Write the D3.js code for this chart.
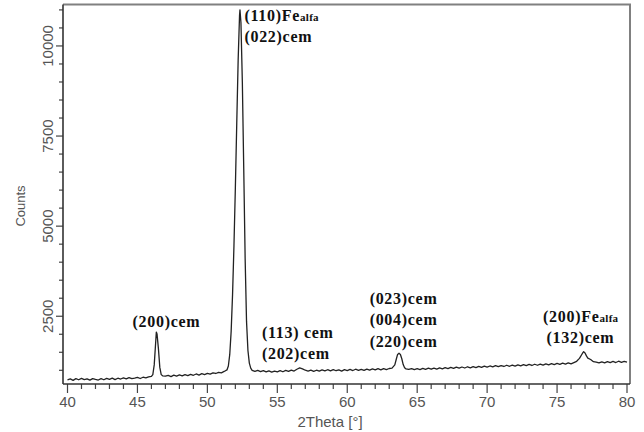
<!DOCTYPE html>
<html>
<head>
<meta charset="utf-8">
<script src="https://cdn.jsdelivr.net/npm/d3@7"></script>
<style>
  html, body { margin: 0; padding: 0; background: #fff; }
  svg { display: block; }
</style>
</head>
<body>
<script>
// ---- data ----
const twoTheta = [
  40.0,40.2,40.4,40.6,40.8,41.0,41.2,41.4,41.6,41.8,42.0,42.2,42.4,42.6,42.8,43.0,43.2,43.4,43.6,43.8,
  44.0,44.2,44.4,44.6,44.8,45.0,45.2,45.4,45.6,45.8,46.0,46.1,46.2,46.3,46.35,46.4,46.5,46.6,46.7,46.8,
  47.0,47.2,47.4,47.6,47.8,48.0,48.2,48.4,48.6,48.8,49.0,49.2,49.4,49.6,49.8,50.0,50.2,50.4,50.6,50.8,
  51.0,51.2,51.4,51.5,51.6,51.7,51.8,51.9,52.0,52.1,52.2,52.3,52.33,52.4,52.5,52.6,52.7,52.8,52.9,53.0,
  53.1,53.2,53.4,53.6,53.8,54.0,54.2,54.4,54.6,54.8,55.0,55.2,55.4,55.6,55.8,56.0,56.2,56.4,56.6,56.8,57.0,
  57.2,57.4,57.6,57.8,58.0,58.2,58.4,58.6,58.8,59.0,59.2,59.4,59.6,59.8,60.0,60.2,60.4,60.6,60.8,61.0,
  61.2,61.4,61.6,61.8,62.0,62.2,62.4,62.6,62.8,63.0,63.2,63.4,63.5,63.6,63.7,63.8,63.9,64.0,64.1,64.2,
  64.4,64.6,64.8,65.0,65.2,65.4,65.6,65.8,66.0,66.2,66.4,66.6,66.8,67.0,67.2,67.4,67.6,67.8,68.0,68.2,
  68.4,68.6,68.8,69.0,69.2,69.4,69.6,69.8,70.0,70.2,70.4,70.6,70.8,71.0,71.2,71.4,71.6,71.8,72.0,72.2,
  72.4,72.6,72.8,73.0,73.2,73.4,73.6,73.8,74.0,74.2,74.4,74.6,74.8,75.0,75.2,75.4,75.6,75.8,76.0,76.2,
  76.4,76.6,76.8,76.9,77.0,77.1,77.2,77.4,77.6,77.8,78.0,78.2,78.4,78.6,78.8,79.0,79.2,79.4,79.6,79.8,
  80.0
];
const counts = [
  735,760,722,768,738,778,742,764,726,770,746,730,768,738,778,750,784,742,780,758,
  792,764,798,768,786,806,772,808,788,818,830,880,1150,1750,2060,2010,1600,1080,880,846,
  836,860,826,866,840,872,844,880,852,888,862,898,868,906,880,916,892,930,912,945,
  930,968,1010,1120,1440,2080,3100,4450,6050,7850,9600,10850,11000,10650,9000,6600,4100,2350,1550,1200,
  1060,1000,970,996,962,992,956,986,952,980,958,990,960,996,970,1006,980,1030,1065,1040,1002,
  980,1006,972,1002,975,1010,982,1016,985,1020,988,1012,978,1018,992,1024,994,1030,1000,1026,
  996,1034,1005,1038,1010,1044,1012,1048,1020,1050,1062,1150,1300,1440,1475,1440,1320,1160,1070,1040,
  1026,1048,1018,1044,1020,1052,1026,1058,1030,1062,1034,1068,1040,1072,1046,1080,1052,1088,1060,1092,
  1064,1098,1070,1102,1074,1108,1082,1116,1088,1120,1094,1128,1100,1132,1106,1140,1112,1146,1118,1152,
  1124,1158,1130,1162,1134,1168,1140,1174,1144,1178,1152,1186,1158,1190,1164,1198,1172,1206,1180,1214,
  1250,1330,1460,1515,1480,1400,1340,1300,1240,1225,1204,1232,1206,1240,1212,1246,1216,1252,1220,1246,
  1225
];
const xTicks = [40, 45, 50, 55, 60, 65, 70, 75, 80];
const yTicks = [2500, 5000, 7500, 10000];
const xDomain = [40, 80];
const yDomain = [620, 11150];

// peak annotations: lines of text, anchored at a 2θ / count position
const annLines = [
  ["(110)Fe", "alfa"], ["(022)cem", ""],
  ["(200)cem", ""],
  ["(113) cem", ""], ["(202)cem", ""],
  ["(023)cem", ""], ["(004)cem", ""], ["(220)cem", ""],
  ["(200)Fe", "alfa"], ["(132)cem", ""]
];
const annX = [52.65, 52.65, 44.65, 53.9, 53.9, 61.6, 61.6, 61.6, 74.0, 74.25];
const annY = [10690, 10110, 2200, 1890, 1310, 2840, 2250, 1660, 2345, 1755];

// ---- drawing ----
const W = 644, H = 432;
const plot = { left: 63, right: 630, top: 4.5, bottom: 384 };

const svg = d3.select("body").append("svg")
  .attr("width", W).attr("height", H);

const x = d3.scaleLinear().domain(xDomain).range([67.5, 627]);
const y = d3.scaleLinear().domain(yDomain).range([plot.bottom, plot.top]);

// frame (top/right lighter)
svg.append("line").attr("x1", plot.left).attr("x2", plot.right + 1)
  .attr("y1", plot.top).attr("y2", plot.top)
  .attr("stroke", "#808080").attr("stroke-width", 2);
svg.append("line").attr("x1", plot.right).attr("x2", plot.right)
  .attr("y1", plot.top).attr("y2", plot.bottom)
  .attr("stroke", "#808080").attr("stroke-width", 2);

// x axis
const xAxis = svg.append("g").attr("transform", `translate(0,${plot.bottom})`);
const xMinor = d3.range(40, 81, 1);
xAxis.selectAll("line.minor").data(xMinor).join("line")
  .attr("x1", d => x(d)).attr("x2", d => x(d))
  .attr("y1", 0).attr("y2", d => (d % 5 === 0 ? 9 : 5))
  .attr("stroke", "#444").attr("stroke-width", 1.2);
xAxis.selectAll("text").data(xTicks).join("text")
  .attr("x", d => x(d)).attr("y", 23)
  .attr("text-anchor", "middle")
  .attr("font-family", "Liberation Sans, Arial, sans-serif")
  .attr("font-size", 15).attr("fill", "#555")
  .text(d => d);
svg.append("line").attr("x1", plot.left).attr("x2", plot.right)
  .attr("y1", plot.bottom).attr("y2", plot.bottom)
  .attr("stroke", "#333").attr("stroke-width", 1.6);

// y axis
const yAxis = svg.append("g").attr("transform", `translate(${plot.left},0)`);
const yMinor = d3.range(1000, 11001, 500);
yAxis.selectAll("line.minor").data(yMinor).join("line")
  .attr("y1", d => y(d)).attr("y2", d => y(d))
  .attr("x1", 0).attr("x2", d => (d % 2500 === 0 ? -7 : -4))
  .attr("stroke", "#444").attr("stroke-width", 1.2);
yAxis.selectAll("text").data(yTicks).join("text")
  .attr("transform", d => `translate(-10,${y(d)}) rotate(-90)`)
  .attr("text-anchor", "middle")
  .attr("font-family", "Liberation Sans, Arial, sans-serif")
  .attr("font-size", 15).attr("fill", "#555")
  .text(d => d);
svg.append("line").attr("x1", plot.left).attr("x2", plot.left)
  .attr("y1", plot.top).attr("y2", plot.bottom)
  .attr("stroke", "#333").attr("stroke-width", 1.6);

// axis titles
svg.append("text")
  .attr("x", 330).attr("y", 427)
  .attr("text-anchor", "middle")
  .attr("font-family", "Liberation Sans, Arial, sans-serif")
  .attr("font-size", 15).attr("fill", "#555")
  .text("2Theta [°]");
svg.append("text")
  .attr("transform", "translate(25,206) rotate(-90)")
  .attr("text-anchor", "middle")
  .attr("font-family", "Liberation Sans, Arial, sans-serif")
  .attr("font-size", 13).attr("fill", "#555")
  .text("Counts");

// data line
const pts = twoTheta.map((t, i) => [t, counts[i]]);
svg.append("path")
  .datum(pts)
  .attr("fill", "none")
  .attr("stroke", "#222")
  .attr("stroke-width", 1.3)
  .attr("stroke-linejoin", "round")
  .attr("d", d3.line().x(d => x(d[0])).y(d => y(d[1])));

// annotations
const ann = svg.append("g")
  .attr("font-family", "Liberation Serif, serif")
  .attr("font-weight", "bold")
  .attr("font-size", 16)
  .attr("letter-spacing", 0.7)
  .attr("fill", "#111");
annLines.forEach((ln, i) => {
  const t = ann.append("text").attr("x", x(annX[i])).attr("y", y(annY[i]));
  t.append("tspan").text(ln[0]);
  if (ln[1]) t.append("tspan").attr("font-size", 11).attr("letter-spacing", 0.3).text(ln[1]);
});
</script>
</body>
</html>
